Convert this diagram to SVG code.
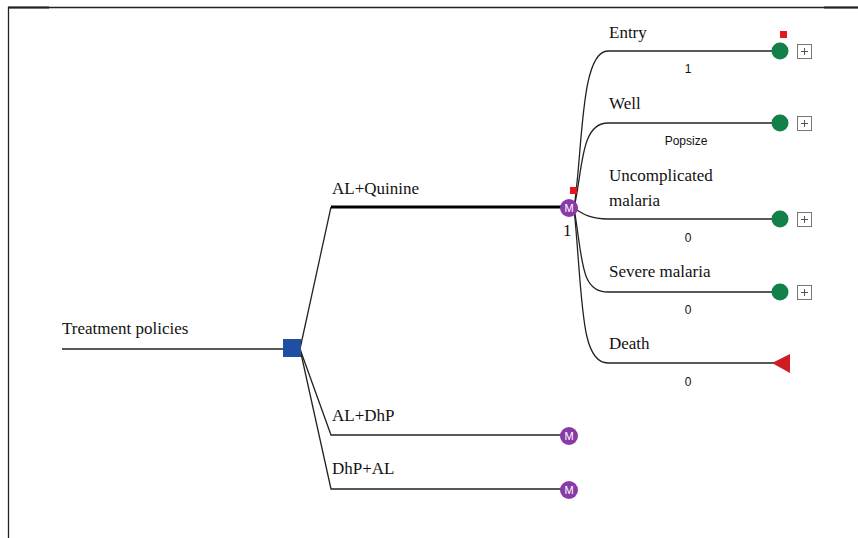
<svg xmlns="http://www.w3.org/2000/svg" width="858" height="538" viewBox="0 0 858 538">
<style>
.lbl{font-family:"Liberation Serif","Times New Roman",serif;font-size:17px;fill:#111}
.val{font-family:"Liberation Sans",Arial,sans-serif;font-size:12px;fill:#111;text-anchor:middle}
.ln{stroke:#222;stroke-width:1.3;fill:none}
.term{fill:#13804a}
.mk{fill:#8a3aa6}
.mt{font-family:"Liberation Sans",Arial,sans-serif;font-size:11px;fill:#fff;text-anchor:middle}
.plus{fill:#fff;stroke:#777;stroke-width:1}
.flag{fill:#e8151b}
</style>
<rect width="858" height="538" fill="#fff"/>
<g id="frame" stroke="#222" fill="none">
<path d="M8.5,538 V7.5 H858" stroke-width="1.3"/>
<path d="M8,7.5 H49 M824,7.5 H858" stroke-width="2.2"/>
</g>
<g id="connectors">
<path class="ln" d="M62,349 H292"/>
<path class="ln" d="M300,349 L331,207"/>
<path d="M331,207 H569" stroke="#000" stroke-width="3.2" fill="none"/>
<path class="ln" d="M300,349 L331,435 H569"/>
<path class="ln" d="M300,349 L331,489 H569"/>
<path class="ln" d="M574,208 C583,150 580,51 608,51 H780"/>
<path class="ln" d="M574,208 C583,170 580,123 608,123 H780"/>
<path class="ln" d="M574,208 C583,214 590,219 608,219 H780"/>
<path class="ln" d="M574,208 C583,260 580,292 608,292 H780"/>
<path class="ln" d="M574,208 C583,300 580,363 608,363 H774"/>
</g>
<g id="root"><text class="lbl" x="62" y="334">Treatment policies</text></g>
<g id="decision"><rect x="283" y="339" width="18" height="18" fill="#1f4ea3"/></g>
<g id="al-quinine"><text class="lbl" x="332" y="194">AL+Quinine</text>
<circle class="mk" cx="569" cy="208" r="9"/><text class="mt" x="569" y="212">M</text>
<rect class="flag" x="570" y="187" width="7" height="7"/>
<text class="lbl" x="563" y="236" font-size="16">1</text></g>
<g id="al-dhp"><text class="lbl" x="332" y="421">AL+DhP</text>
<circle class="mk" cx="569" cy="436" r="9"/><text class="mt" x="569" y="440">M</text></g>
<g id="dhp-al"><text class="lbl" x="332" y="474">DhP+AL</text>
<circle class="mk" cx="569" cy="490" r="9"/><text class="mt" x="569" y="494">M</text></g>
<g id="entry"><text class="lbl" x="609" y="38">Entry</text><text class="val" x="688" y="73">1</text>
<circle class="term" cx="780" cy="51" r="8.5"/><rect class="flag" x="780" y="31" width="7" height="7"/>
<rect class="plus" x="797.5" y="44.5" width="14" height="14"/><path d="M801,51.5 H808 M804.5,48 V55" stroke="#555"/></g>
<g id="well"><text class="lbl" x="609" y="109">Well</text><text class="val" x="686" y="145">Popsize</text>
<circle class="term" cx="780" cy="123" r="8.5"/>
<rect class="plus" x="797.5" y="116.5" width="14" height="14"/><path d="M801,123.5 H808 M804.5,120 V127" stroke="#555"/></g>
<g id="uncomplicated"><text class="lbl" x="609" y="181">Uncomplicated</text><text class="lbl" x="609" y="206">malaria</text><text class="val" x="688" y="242">0</text>
<circle class="term" cx="780" cy="219" r="8.5"/>
<rect class="plus" x="797.5" y="212.5" width="14" height="14"/><path d="M801,219.5 H808 M804.5,216 V223" stroke="#555"/></g>
<g id="severe"><text class="lbl" x="609" y="277">Severe malaria</text><text class="val" x="688" y="314">0</text>
<circle class="term" cx="780" cy="292" r="8.5"/>
<rect class="plus" x="797.5" y="285.5" width="14" height="14"/><path d="M801,292.5 H808 M804.5,289 V296" stroke="#555"/></g>
<g id="death"><text class="lbl" x="609" y="349">Death</text><text class="val" x="688" y="386">0</text>
<path d="M772,363 L790,354 V373 Z" fill="#cc1c24"/></g>
</svg>
